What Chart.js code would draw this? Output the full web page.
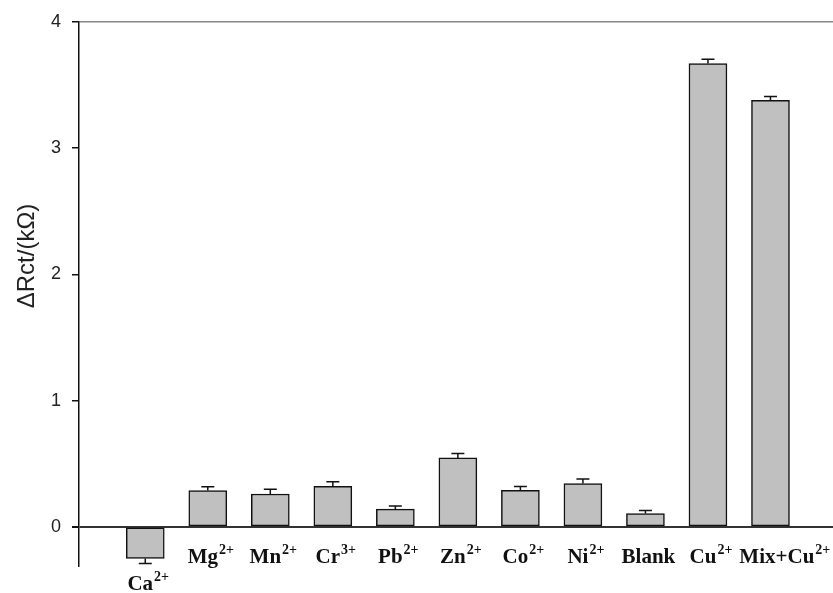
<!DOCTYPE html>
<html>
<head>
<meta charset="utf-8">
<script src="https://cdn.jsdelivr.net/npm/chart.js@4.4.0/dist/chart.umd.min.js"></script>
<style>
  html, body { margin: 0; padding: 0; background: #fff; }
  #wrap { width: 833px; height: 593px; position: relative; }
</style>
</head>
<body>
<div id="wrap"><canvas id="chart"></canvas></div>
<script>
// ions on the x axis, with their charge written as superscript
const ions = ['Ca', 'Mg', 'Mn', 'Cr', 'Pb', 'Zn', 'Co', 'Ni', 'Blank', 'Cu', 'Mix+Cu'];
const charges = ['2+', '2+', '2+', '3+', '2+', '2+', '2+', '2+', '', '2+', '2+'];

// delta Rct in kOhm, and the error bar sizes
const deltaRct = [-0.25, 0.287, 0.26, 0.321, 0.14, 0.546, 0.29, 0.343, 0.105, 3.67, 3.378];
const errors = [0.04, 0.031, 0.037, 0.037, 0.026, 0.034, 0.03, 0.037, 0.024, 0.034, 0.03];

const yTicks = [0, 1, 2, 3, 4];

const points = deltaRct.map((v, i) => ({ x: i, y: v }));

// === error bars, drawn on top of each bar ===
const errorBars = {
  id: 'errorBars',
  afterDatasetsDraw(chart) {
    const ctx = chart.ctx;
    const y = chart.scales.y;
    const meta = chart.getDatasetMeta(0);
    ctx.save();
    ctx.strokeStyle = '#111';
    ctx.lineWidth = 1.5;
    meta.data.forEach((bar, i) => {
      const v = deltaRct[i];
      const end = v >= 0 ? v + errors[i] : v - errors[i];
      const y0 = y.getPixelForValue(v);
      const y1 = y.getPixelForValue(end);
      ctx.beginPath();
      ctx.moveTo(bar.x, y0);
      ctx.lineTo(bar.x, y1);
      ctx.moveTo(bar.x - 6.5, y1);
      ctx.lineTo(bar.x + 6.5, y1);
      ctx.stroke();
    });
    ctx.restore();
  }
};

// === ion labels with superscript charge ===
const ionLabels = {
  id: 'ionLabels',
  afterDraw(chart) {
    const ctx = chart.ctx;
    const y = chart.scales.y;
    const meta = chart.getDatasetMeta(0);
    const baseFont = 'bold 21px "Liberation Serif", "Times New Roman", serif';
    const supFont = 'bold 14px "Liberation Serif", "Times New Roman", serif';
    const zero = y.getPixelForValue(0);
    let prevRight = -Infinity;
    ctx.save();
    ctx.fillStyle = '#111';
    ctx.textBaseline = 'alphabetic';
    ctx.textAlign = 'left';
    meta.data.forEach((bar, i) => {
      ctx.font = baseFont;
      const w1 = ctx.measureText(ions[i]).width;
      ctx.font = supFont;
      const w2 = charges[i] ? ctx.measureText(charges[i]).width + 1 : 0;
      let left = bar.x - (w1 + w2) / 2 + 3;
      let base = zero + 36;
      if (deltaRct[i] < 0) {
        base = y.getPixelForValue(deltaRct[i] - errors[i]) + 27;
      } else {
        // keep a small gap to the label before
        left = Math.max(left, prevRight + 7);
        prevRight = left + w1 + w2;
      }
      ctx.font = baseFont;
      ctx.fillText(ions[i], left, base);
      if (charges[i]) {
        ctx.font = supFont;
        ctx.fillText(charges[i], left + w1 + 1, base - 9);
      }
    });
    ctx.restore();
  }
};

// === y axis title, rotated ===
const yTitle = {
  id: 'yTitle',
  afterDraw(chart) {
    const ctx = chart.ctx;
    ctx.save();
    ctx.translate(27, 256);
    ctx.rotate(-Math.PI / 2);
    ctx.font = '24px "Liberation Sans", Arial, sans-serif';
    ctx.fillStyle = '#222';
    ctx.textAlign = 'center';
    ctx.textBaseline = 'middle';
    ctx.fillText('ΔRct/(kΩ)', 0, 0);
    ctx.restore();
  }
};

new Chart(document.getElementById('chart'), {
  type: 'bar',
  data: {
    datasets: [{
      data: points,
      backgroundColor: '#c0c0c0',
      borderColor: '#111',
      borderWidth: 1.5,
      borderSkipped: false,
      barThickness: 38
    }]
  },
  options: {
    responsive: true,
    maintainAspectRatio: false,
    animation: false,
    layout: { padding: { top: 20, right: 0, bottom: 27, left: 0 } },
    plugins: {
      legend: { display: false },
      tooltip: { enabled: false }
    },
    scales: {
      x: {
        type: 'linear',
        display: false,
        offset: false,
        min: -1.06,
        max: 11.0
      },
      y: {
        min: -0.31,
        max: 4,
        afterFit(scale) { scale.width = 79; },
        afterBuildTicks(scale) {
          scale.ticks = yTicks.map(v => ({ value: v }));
        },
        border: { display: true, color: '#111', width: 1.5 },
        grid: {
          drawOnChartArea: true,
          tickLength: 7,
          tickColor: '#111',
          color: (c) => {
            if (c.tick && c.tick.value === 0) return '#333';
            if (c.tick && c.tick.value === 4) return '#888';
            return 'rgba(0,0,0,0)';
          },
          lineWidth: (c) => (c.tick && c.tick.value === 0 ? 2 : 1.5)
        },
        ticks: {
          padding: 11,
          color: '#222',
          font: { family: '"Liberation Sans", Arial, sans-serif', size: 18 }
        }
      }
    }
  },
  plugins: [errorBars, ionLabels, yTitle]
});
</script>
</body>
</html>
